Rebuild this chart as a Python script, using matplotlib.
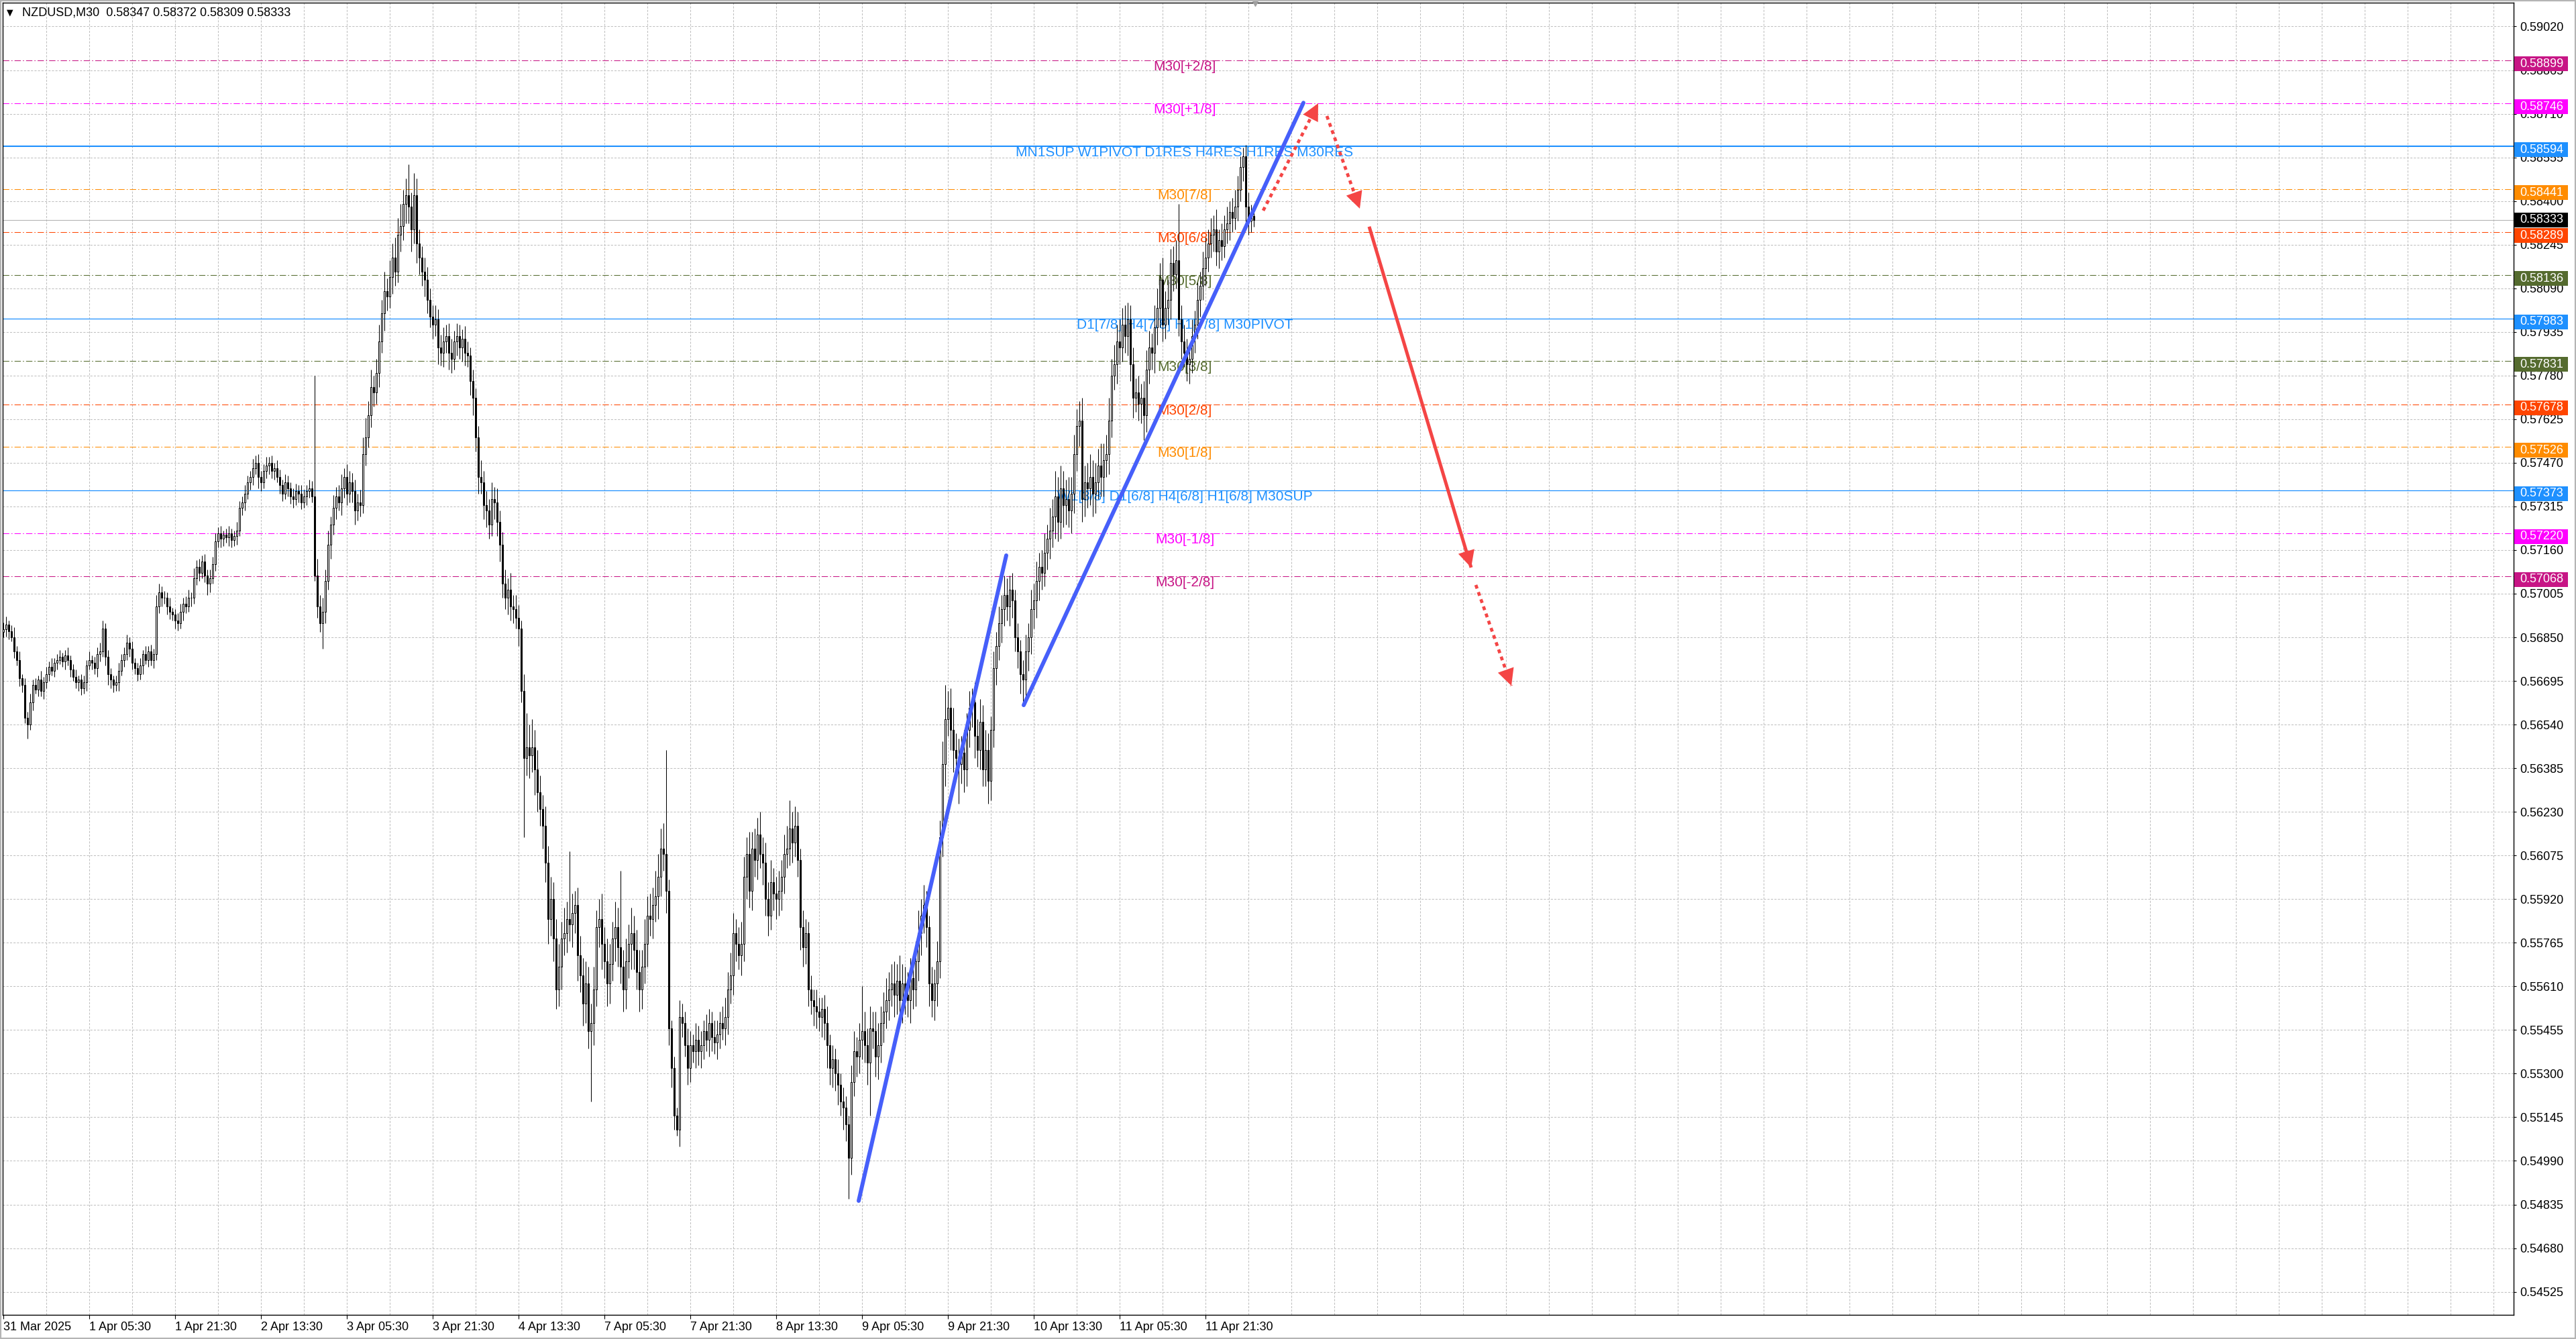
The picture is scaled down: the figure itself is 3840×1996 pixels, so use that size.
import numpy as np
import matplotlib
matplotlib.use("Agg")
import matplotlib.pyplot as plt
from matplotlib.patches import Rectangle

plt.rcParams['font.family'] = ['Liberation Sans', 'DejaVu Sans']

# chart header
symbol = "NZDUSD,M30"

# closes of the M30 bars, in points (1e-5)
closes = [
    56878, 56895, 56872, 56850, 56800, 56770, 56705, 56680, 56565, 56540,
    56620, 56680, 56665, 56700, 56660, 56690, 56720, 56745, 56730, 56760,
    56770, 56780, 56765, 56785, 56770, 56735, 56710, 56690, 56700, 56670,
    56690, 56750, 56770, 56760, 56740, 56790, 56800, 56880, 56780, 56720,
    56700, 56680, 56690, 56730, 56770, 56790, 56830, 56810, 56760, 56740,
    56720, 56750, 56790, 56770, 56800, 56770, 56790, 56960, 57010, 56990,
    56990, 56960, 56940, 56930, 56910, 56900, 56940, 56970, 56960, 56990,
    56990, 57060, 57100, 57080, 57120, 57070, 57040, 57060, 57110, 57190,
    57220, 57200, 57215, 57205, 57220, 57195, 57210, 57230, 57310, 57330,
    57360, 57400, 57420, 57450, 57470, 57420, 57400, 57440, 57460, 57470,
    57440, 57450, 57420, 57390, 57360, 57400, 57380, 57350, 57340, 57370,
    57360, 57330, 57350, 57370, 57380, 57350, 57070, 56960, 56900, 56940,
    57050, 57180, 57250, 57310, 57350, 57330, 57380, 57420, 57360, 57400,
    57370, 57300, 57330, 57320, 57500, 57560, 57640, 57740, 57720, 57790,
    57900, 58000, 58080, 58060, 58130, 58200, 58150, 58280, 58310, 58390,
    58420, 58380, 58300, 58420, 58250, 58200, 58150, 58120, 58050, 57990,
    57960, 57980, 57880, 57860, 57900, 57920, 57860, 57840, 57900, 57920,
    57880, 57910, 57860, 57850, 57760, 57700, 57560, 57420, 57400, 57320,
    57300, 57250, 57340, 57330, 57260, 57180, 57040, 56990, 57020, 56960,
    56950, 56920, 56880, 56660, 56420, 56460, 56430, 56460, 56380, 56300,
    56240, 56180, 56050, 55850, 55920, 55780, 55600, 55680, 55780, 55800,
    55850, 55830, 55870, 55900, 55720, 55650, 55550, 55620, 55450, 55480,
    55600, 55820, 55850, 55760, 55700, 55620, 55690, 55780, 55820, 55750,
    55680, 55600, 55700, 55760, 55800, 55740, 55660, 55600, 55680, 55760,
    55860, 55850, 55900, 55930, 56000, 56100, 56080, 55950, 55460, 55320,
    55150, 55100, 55500, 55480, 55400, 55320, 55400, 55380, 55420, 55380,
    55400, 55450, 55420, 55480, 55430, 55410, 55440, 55480, 55460, 55500,
    55600, 55650, 55800, 55760, 55720, 55760, 56000, 56080, 55950, 56100,
    56060, 56150, 56080, 56050, 55920, 55860, 55980, 55940, 55920, 55950,
    56000, 56080, 56100, 56170, 56120, 56180, 56060, 55820, 55750, 55800,
    55600, 55560, 55540, 55520, 55500, 55530, 55480, 55400, 55320, 55350,
    55300, 55260, 55200, 55180, 55120, 55000, 55270, 55380, 55360, 55420,
    55450, 55400, 55340, 55460, 55450, 55360, 55400, 55480, 55520, 55560,
    55600, 55620, 55580, 55630, 55560, 55620, 55580, 55560, 55640, 55600,
    55700, 55800, 55860, 55900, 55820, 55620, 55560, 55620, 55700, 56140,
    56400, 56560, 56600, 56520, 56450, 56420, 56400, 56440, 56380, 56520,
    56600, 56620, 56500, 56450, 56550, 56380, 56450, 56340, 56520, 56740,
    56820, 56900, 56950, 57000, 56960, 57020, 56980, 56850, 56800, 56720,
    56700, 56800, 56850, 56950, 56980, 57050, 57100, 57080, 57150, 57200,
    57230, 57280, 57350, 57260, 57380, 57320, 57340, 57300, 57360, 57500,
    57600, 57620, 57340, 57400, 57380, 57420, 57360, 57400, 57460, 57420,
    57480, 57500, 57620, 57780, 57820, 57900, 57880, 57960, 57920, 57980,
    57820, 57700, 57720, 57680, 57700, 57640, 57800, 57880, 57860, 57950,
    58020, 58120, 57960, 58020, 58050, 58180, 58140, 58190, 57980, 57900,
    57860, 57820, 57840, 57920, 57960, 58050, 58100, 58160, 58200, 58250,
    58280, 58300, 58220, 58260, 58240, 58300, 58320, 58360, 58340, 58380,
    58440, 58520, 58560, 58380, 58330, 58347, 58333,
]
first_open = 56870

# upper / lower wick beyond the body, in points
wick_up = [
    25, 30, 15, 20, 35, 20, 30, 15, 25, 20, 30, 20, 25, 15, 30, 20, 25, 20, 30, 15,
    20, 25, 15, 20, 30, 15, 20, 25, 15, 20, 25, 20, 30, 15, 20, 25, 30, 30, 20, 25,
    20, 15, 25, 30, 20, 25, 30, 20, 25, 15, 20, 25, 15, 30, 20, 25, 20, 40, 30, 20,
    25, 20, 30, 15, 20, 25, 30, 20, 25, 30, 20, 35, 25, 30, 20, 25, 20, 30, 25, 30,
    20, 25, 15, 20, 25, 15, 20, 30, 25, 20, 30, 25, 20, 35, 25, 30, 20, 25, 30, 20,
    25, 20, 30, 25, 20, 30, 25, 20, 30, 25, 20, 30, 25, 20, 30, 25, 430, 60, 40, 50,
    40, 50, 30, 45, 35, 40, 50, 30, 45, 40, 35, 40, 30, 45, 60, 70, 50, 60, 40, 50,
    60, 50, 70, 45, 60, 50, 70, 60, 80, 50, 60, 110, 50, 80, 60, 50, 40, 50, 45, 40,
    40, 50, 35, 45, 50, 40, 45, 50, 40, 45, 40, 35, 45, 40, 30, 40, 35, 40, 60, 40,
    50, 40, 60, 45, 50, 40, 45, 50, 40, 60, 40, 50, 45, 30, 60, 120, 80, 100, 60, 70,
    60, 50, 70, 60, 80, 60, 70, 80, 60, 90, 60, 240, 70, 50, 60, 70, 60, 80, 60, 70,
    80, 60, 70, 90, 60, 80, 70, 60, 90, 70, 270, 60, 80, 70, 90, 60, 70, 80, 60, 90,
    70, 80, 60, 90, 80, 70, 90, 370, 40, 30, 40, 30, 60, 50, 40, 60, 50, 40, 60, 50,
    50, 40, 60, 50, 40, 60, 50, 40, 60, 70, 60, 80, 70, 50, 60, 80, 70, 60, 80, 60,
    70, 60, 80, 60, 70, 60, 80, 50, 60, 70, 60, 70, 80, 100, 60, 70, 50, 40, 60, 50,
    40, 50, 40, 60, 50, 40, 50, 60, 40, 50, 40, 50, 40, 50, 40, 30, 60, 70, 50, 60,
    160, 70, 60, 80, 60, 70, 80, 60, 70, 80, 60, 70, 80, 60, 90, 70, 60, 80, 70, 60,
    70, 80, 60, 70, 50, 40, 60, 50, 70, 60, 80, 120, 60, 70, 80, 60, 70, 60, 80, 60,
    60, 50, 70, 60, 80, 60, 70, 60, 50, 60, 50, 60, 50, 70, 60, 50, 60, 40, 50, 40,
    50, 60, 50, 70, 60, 70, 50, 60, 70, 50, 80, 60, 90, 70, 80, 60, 70, 80, 60, 70,
    60, 70, 80, 60, 70, 80, 60, 70, 60, 80, 60, 70, 80, 60, 70, 60, 80, 60, 70, 60,
    50, 60, 50, 60, 50, 60, 70, 60, 50, 80, 70, 60, 80, 60, 70, 50, 60, 70, 200, 50,
    60, 50, 40, 60, 50, 60, 50, 60, 70, 50, 60, 50, 70, 40, 60, 50, 60, 40, 50, 60,
    50, 40, 30, 40, 50, 40, 25,
]
wick_dn = [
    20, 25, 30, 15, 25, 20, 30, 25, 20, 50, 20, 30, 15, 25, 20, 30, 20, 25, 15, 20,
    25, 15, 20, 30, 20, 25, 15, 20, 30, 25, 20, 30, 15, 25, 20, 30, 25, 20, 30, 40,
    30, 25, 20, 30, 15, 25, 20, 30, 25, 20, 25, 20, 30, 15, 25, 20, 30, 20, 25, 30,
    20, 30, 25, 20, 30, 25, 20, 30, 25, 20, 30, 20, 25, 30, 20, 25, 40, 30, 20, 25,
    20, 30, 25, 20, 30, 25, 20, 30, 20, 25, 30, 20, 25, 30, 20, 40, 30, 20, 25, 30,
    25, 30, 20, 30, 25, 20, 30, 25, 30, 20, 30, 25, 20, 30, 25, 20, 20, 40, 30, 90,
    40, 30, 50, 35, 40, 30, 45, 35, 40, 30, 40, 50, 35, 40, 30, 40, 35, 45, 50, 40,
    50, 40, 60, 50, 40, 60, 50, 40, 60, 50, 70, 60, 80, 50, 70, 60, 50, 60, 50, 40,
    50, 40, 60, 45, 50, 40, 60, 50, 40, 50, 40, 50, 45, 40, 50, 60, 50, 60, 40, 50,
    60, 50, 40, 60, 50, 60, 50, 40, 60, 50, 50, 40, 60, 40, 280, 60, 80, 60, 90, 70,
    60, 80, 70, 90, 60, 80, 70, 60, 80, 60, 70, 60, 80, 70, 90, 60, 80, 70, 60, 250,
    80, 60, 70, 90, 60, 80, 70, 60, 80, 70, 60, 80, 70, 60, 90, 70, 60, 80, 70, 60,
    80, 60, 70, 60, 80, 70, 60, 80, 60, 70, 50, 20, 60, 50, 40, 60, 50, 40, 60, 50,
    60, 50, 40, 60, 50, 40, 60, 50, 40, 60, 60, 50, 70, 60, 50, 70, 60, 80, 60, 70,
    60, 70, 50, 80, 60, 70, 50, 60, 70, 60, 70, 60, 50, 60, 70, 50, 60, 80, 70, 60,
    60, 50, 70, 60, 50, 70, 60, 80, 60, 70, 60, 70, 50, 80, 60, 144, 60, 50, 70, 60,
    70, 60, 80, 190, 60, 70, 80, 60, 70, 60, 70, 60, 80, 70, 60, 80, 70, 60, 80, 70,
    60, 70, 80, 60, 70, 80, 60, 70, 80, 60, 70, 80, 60, 70, 80, 60, 140, 70, 80, 60,
    60, 70, 80, 60, 70, 60, 60, 80, 70, 60, 60, 50, 70, 60, 50, 70, 60, 50, 60, 70,
    90, 60, 70, 60, 70, 60, 70, 60, 50, 60, 70, 60, 80, 70, 60, 80, 70, 60, 80, 70,
    60, 70, 80, 60, 70, 60, 80, 70, 60, 70, 70, 60, 70, 60, 50, 70, 60, 50, 60, 70,
    60, 70, 50, 60, 70, 90, 60, 50, 60, 70, 60, 70, 60, 50, 60, 70, 60, 50, 60, 60,
    50, 60, 70, 50, 60, 50, 60, 50, 60, 50, 50, 60, 50, 60, 50, 40, 50, 60, 50, 40,
    50, 40, 50, 60, 50, 40, 24,
]

# horizontal levels: price, text, colour, style
level_prices = [0.58899, 0.58746, 0.58594, 0.58441, 0.58289, 0.58136, 0.57983,
                0.57831, 0.57678, 0.57526, 0.57373, 0.57220, 0.57068]
level_texts = ["M30[+2/8]", "M30[+1/8]", "MN1SUP W1PIVOT D1RES H4RES H1RES M30RES",
               "M30[7/8]", "M30[6/8]", "M30[5/8]", "D1[7/8] H4[7/8] H1[7/8] M30PIVOT",
               "M30[3/8]", "M30[2/8]", "M30[1/8]", "W1[3/8] D1[6/8] H4[6/8] H1[6/8] M30SUP",
               "M30[-1/8]", "M30[-2/8]"]
level_colors = ["#C71585", "#FF00FF", "#1E90FF", "#FF8C00", "#FF4500", "#556B2F", "#1E90FF",
                "#556B2F", "#FF4500", "#FF8C00", "#1E90FF", "#FF00FF", "#C71585"]
level_solid = [False, False, True, False, False, False, True,
               False, False, False, True, False, False]

y_ticks = [0.59020, 0.58865, 0.58710, 0.58555, 0.58400, 0.58245, 0.58090, 0.57935,
           0.57780, 0.57625, 0.57470, 0.57315, 0.57160, 0.57005, 0.56850, 0.56695,
           0.56540, 0.56385, 0.56230, 0.56075, 0.55920, 0.55765, 0.55610, 0.55455,
           0.55300, 0.55145, 0.54990, 0.54835, 0.54680, 0.54525]
x_tick_bars = [0, 32, 64, 96, 128, 160, 192, 224, 256, 288, 320, 352, 384, 416, 448]
x_tick_labels = ["31 Mar 2025", "1 Apr 05:30", "1 Apr 21:30", "2 Apr 13:30", "3 Apr 05:30",
                 "3 Apr 21:30", "4 Apr 13:30", "7 Apr 05:30", "7 Apr 21:30", "8 Apr 13:30",
                 "9 Apr 05:30", "9 Apr 21:30", "10 Apr 13:30", "11 Apr 05:30", "11 Apr 21:30"]

# drawn trend lines (bar index, price)
trend_lines = [((318.75, 0.54848), (373.75, 0.57141)),
               ((380.25, 0.56609), (484.5, 0.58749))]
# forecast arrows: start, end, dotted?
arrows = [((469.5, 0.58366), (490.0, 0.58747), True),
          ((493.25, 0.58702), (505.5, 0.58373), True),
          ((509.0, 0.58309), (547.0, 0.57098), False),
          ((548.75, 0.57036), (562.0, 0.56678), True)]

# build OHLC arrays
c = np.array(closes) / 1e5
o = np.array([first_open] + closes[:-1]) / 1e5
h = np.maximum(o, c) + np.array(wick_up) / 1e5
l = np.minimum(o, c) - np.array(wick_dn) / 1e5
idx = np.arange(len(c))
bid = c[-1]

W, H = 3840, 1996
y_top, y_bot = 0.591046, 0.544430
fig = plt.figure(figsize=(W / 100, H / 100), dpi=100)
fig.patch.set_facecolor("white")
ax = fig.add_axes([4 / W, 36 / H, (3747 - 4) / W, (1992 - 36) / H])
ax.set_facecolor("white")
ax.set_xlim(-0.25, 935.5)
ax.set_ylim(y_bot, y_top)

# grid
grid_kw = dict(color="#C0C0C0", lw=0.75, ls=(0, (3, 2)), zorder=0)
for x in range(16, 936, 16):
    ax.axvline(x, **grid_kw)
for y in y_ticks:
    ax.axhline(y, **grid_kw)

# levels
for p, txt, col, solid in zip(level_prices, level_texts, level_colors, level_solid):
    if solid:
        lw = 1.5 if txt.startswith("MN1") else 0.9
        ax.axhline(p, color=col, lw=lw, zorder=1.5)
    else:
        ax.axhline(p, color=col, lw=0.75, ls=(0, (9, 3, 1.5, 3)), zorder=1.5)
    ax.text(440.25, p, txt, color=col, fontsize=15, ha="center", va="top", zorder=2)
ax.axhline(bid, color="#B4B4B4", lw=0.8, zorder=1.5)

# candles
up = c >= o
ax.vlines(idx, l, h, color="black", lw=0.75, zorder=3)
body_lo = np.minimum(o, c)
body_h = np.maximum(np.abs(c - o), 0.000012)
ax.bar(idx[up], body_h[up], bottom=body_lo[up], width=0.52, color="white",
       edgecolor="black", lw=0.75, zorder=3.2)
ax.bar(idx[~up], body_h[~up], bottom=body_lo[~up], width=0.52, color="black",
       edgecolor="black", lw=0.75, zorder=3.2)

# trend lines
for (x0, y0), (x1, y1) in trend_lines:
    ax.plot([x0, x1], [y0, y1], color="#465FFA", lw=4.3, solid_capstyle="round", zorder=4)

# arrows
red = "#F44545"
for (x0, y0), (x1, y1), dotted in arrows:
    if dotted:
        ax.plot([x0, x1], [y0, y1], color=red, lw=3.4, ls=(0, (1.2, 1.2)),
                dash_capstyle="butt", zorder=4)
    else:
        ax.plot([x0, x1], [y0, y1], color=red, lw=3.6, solid_capstyle="butt", zorder=4)
    ax.annotate("", xy=(x1, y1), xytext=(x0, y0),
                arrowprops=dict(arrowstyle="-|>,head_length=0.9,head_width=0.45",
                                mutation_scale=20, color=red, lw=0,
                                shrinkA=0, shrinkB=0), zorder=4.5)

# axes / ticks
for s in ax.spines.values():
    s.set_color("black")
    s.set_linewidth(1.0)
ax.yaxis.tick_right()
ax.set_yticks(y_ticks)
ax.set_yticklabels(["%.5f" % v for v in y_ticks], fontsize=13)
ax.tick_params(axis="y", length=3, width=0.8, pad=4)
ax.set_xticks(x_tick_bars)
ax.set_xticklabels(x_tick_labels, fontsize=13, ha="left")
ax.tick_params(axis="x", length=4, width=0.8, pad=3)

# price boxes on the right axis
px_unit = (1992 - 36) / (y_top - y_bot)
ytr = ax.get_yaxis_transform()
box_w = 80 / (3747 - 4)
for p, col in zip(level_prices + [bid], level_colors + ["black"]):
    shift = 0 if col == "black" else 5
    y_c = p - shift / px_unit
    ax.add_patch(Rectangle((1.0003, y_c - 11 / px_unit), box_w, 22 / px_unit,
                           transform=ytr, facecolor=col, edgecolor="none",
                           clip_on=False, zorder=6))
    ax.text(1.0025, y_c, "%.5f" % p, transform=ytr, color="white", fontsize=13,
            ha="left", va="center", clip_on=False, zorder=7)

# header
ax.text(6 / 3743, 1 - 15 / 1956, "\u25bc", transform=ax.transAxes, fontsize=9,
        ha="left", va="center", family=["DejaVu Sans"])
ax.text(29 / 3743, 1 - 15 / 1956,
        "%s  %.5f %.5f %.5f %.5f" % (symbol, o[-1], h[-1], l[-1], c[-1]),
        transform=ax.transAxes, fontsize=13, ha="left", va="center")

# chart shift marker
ax.plot([466.5], [1.0], marker="v", ms=7, color="#A0A0A0",
        transform=ax.get_xaxis_transform(), clip_on=False, zorder=6)

fig.patches.append(Rectangle((0, 0), 1, 1, transform=fig.transFigure, fill=False,
                             edgecolor="#B4B4B4", lw=3))

fig.savefig("out.png", dpi=100)
